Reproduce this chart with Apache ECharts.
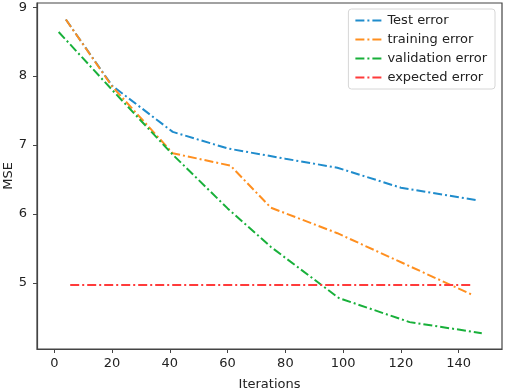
<!DOCTYPE html>
<html>
<head>
<meta charset="utf-8">
<script src="https://cdn.jsdelivr.net/npm/echarts@6/dist/echarts.min.js"></script>
<style>
  html, body { margin: 0; padding: 0; background: #fff; }
  #chart { width: 505px; height: 389px; }
</style>
</head>
<body>
<div id="chart"></div>
<script>
// values: [iteration, MSE]
var testError = [[4, 8.82], [20, 7.86], [41, 7.19], [60, 6.95], [80, 6.80], [98, 6.67], [120, 6.38], [146, 6.20]];
var trainingError = [[4, 8.82], [20, 7.85], [41, 6.88], [61, 6.70], [75, 6.09], [98, 5.72], [121, 5.28], [145, 4.82]];
var validationError = [[1.5, 8.64], [20, 7.80], [41, 6.86], [60, 6.08], [75, 5.52], [98.5, 4.78], [123, 4.43], [148, 4.27]];
var expectedError = [[5.5, 4.97], [145, 4.97]];
var xTicks = [0, 20, 40, 60, 80, 100, 120, 140];
var yTicks = [5, 6, 7, 8, 9];

var font = 'DejaVu Sans';
var dashDot = [9, 3, 2, 3];

function makeSeries(name, data, color) {
	return {
		name: name,
		type: 'line',
		data: data,
		symbol: 'none',
		animation: false,
		lineStyle: { color: color, width: 2, type: dashDot },
		itemStyle: { color: color }
	};
}

var myChart = echarts.init(document.getElementById('chart'));
var option = {
	animation: false,
	grid: {
		left: 37, right: 3, top: 3, bottom: 40,
		outerBoundsMode: 'none',
		containLabel: false,
		show: true,
		borderColor: '#444',
		borderWidth: 1.2
	},
	legend: {
		right: 10, top: 9,
		orient: 'vertical',
		itemWidth: 27,
		itemHeight: 8,
		itemGap: 6,
		padding: [5, 8, 5, 6],
		borderColor: '#d6d6d6',
		borderWidth: 1,
		borderRadius: 3,
		itemStyle: { opacity: 0 },
		textStyle: { fontFamily: font, fontSize: 13, color: '#222' },
		data: ['Test error', 'training error', 'validation error', 'expected error']
	},
	xAxis: {
		type: 'value',
		min: -6,
		max: 155,
		name: 'Iterations',
		nameLocation: 'middle',
		nameGap: 29,
		nameMoveOverlap: false,
		nameTextStyle: { fontFamily: font, fontSize: 13, color: '#222' },
		axisLine: { show: true, onZero: false, lineStyle: { color: '#444', width: 1.2 } },
		axisTick: { show: true, length: 4, customValues: xTicks, lineStyle: { color: '#444' } },
		axisLabel: { customValues: xTicks, fontFamily: font, fontSize: 13, color: '#222', margin: 8 },
		splitLine: { show: false }
	},
	yAxis: {
		type: 'value',
		min: 4.04,
		max: 9.06,
		name: 'MSE',
		nameLocation: 'middle',
		nameGap: 22,
		nameMoveOverlap: false,
		nameTextStyle: { fontFamily: font, fontSize: 13, color: '#222' },
		axisLine: { show: true, onZero: false, lineStyle: { color: '#444', width: 1.2 } },
		axisTick: { show: true, length: 4, customValues: yTicks, lineStyle: { color: '#444' } },
		axisLabel: { customValues: yTicks, fontFamily: font, fontSize: 13, color: '#222', margin: 10 },
		splitLine: { show: false }
	},
	series: [
		makeSeries('Test error', testError, '#1f8ccc'),
		makeSeries('training error', trainingError, '#ff8f1f'),
		makeSeries('validation error', validationError, '#18b03a'),
		makeSeries('expected error', expectedError, '#ff3b3b')
	]
};
myChart.setOption(option);
</script>
</body>
</html>
